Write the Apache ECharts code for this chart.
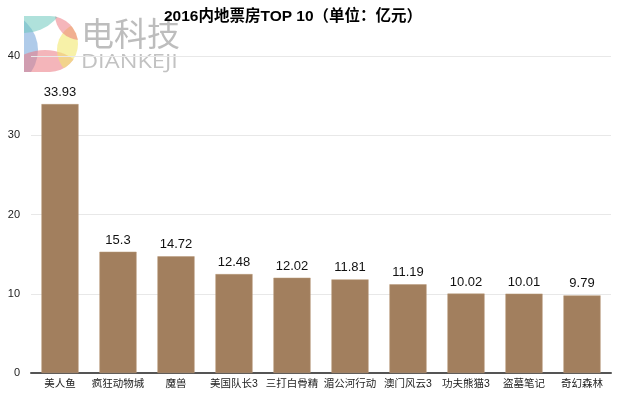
<!DOCTYPE html>
<html>
<head>
<meta charset="utf-8">
<script src="https://cdn.jsdelivr.net/npm/echarts@6/dist/echarts.min.js"></script>
<style>
  html, body { margin: 0; padding: 0; background: #fff; }
  #chart { width: 620px; height: 399px; }
</style>
</head>
<body>
<div id="chart"></div>
<script>
'use strict';

/* ── Data ── */
const films = ['美人鱼', '疯狂动物城', '魔兽', '美国队长3', '三打白骨精', '湄公河行动', '澳门风云3', '功夫熊猫3', '盗墓笔记', '奇幻森林'];
const boxOffice = [33.93, 15.3, 14.72, 12.48, 12.02, 11.81, 11.19, 10.02, 10.01, 9.79];
const yTicks = [0, 10, 20, 30, 40];

const FONT = "'Helvetica Neue', Arial, 'Noto Sans CJK SC', sans-serif";

/* ── Logo watermark (decorative, painted offscreen) ── */
function logoImage() {
  const cv = document.createElement('canvas');
  cv.width = 56; cv.height = 58;
  const g = cv.getContext('2d');
  // D outline
  g.beginPath();
  g.moveTo(0, 0);
  g.lineTo(26, 0);
  g.arc(26, 28, 28, -Math.PI / 2, Math.PI / 2);
  g.lineTo(0, 56);
  g.closePath();
  g.clip();
  const disc = (cx, cy, r, c) => {
    g.beginPath(); g.arc(cx, cy, r, 0, Math.PI * 2); g.fillStyle = c; g.fill();
  };
  disc(-24, 34, 38, 'rgba(110,160,215,0.55)');   // blue, left
  disc(21, 84, 50, 'rgba(235,120,130,0.55)');    // pink, bottom
  disc(61, 34, 28, 'rgba(242,232,110,0.6)');     // yellow, right
  disc(56, -1, 25, 'rgba(235,110,120,0.5)');     // red, top right
  disc(0, -26, 43, 'rgba(110,200,190,0.55)');    // teal, top
  return cv.toDataURL();
}

const chart = echarts.init(document.getElementById('chart'), null, { renderer: 'canvas' });

chart.setOption({
  backgroundColor: '#fff',
  animation: false,
  textStyle: { fontFamily: FONT },
  title: {
    text: '2016内地票房TOP 10（单位：亿元）',
    left: 159,
    top: 4,
    textStyle: { fontSize: 15.5, fontWeight: 'bold', color: '#000', fontFamily: FONT }
  },
  graphic: [
    { type: 'image', left: 24, top: 16, silent: true, style: { image: logoImage(), width: 56, height: 58 } },
    {
      type: 'text', x: 81, y: 17, silent: true,
      style: { text: '电科技', fill: '#bdbdbd', font: "33px 'Noto Sans CJK SC', sans-serif" }
    },
    {
      type: 'text', x: 81, y: 52, scaleX: 1.18, silent: true,
      style: { text: 'DIANKEJI', fill: '#c2c2c2', font: "20px 'Open Sans', sans-serif" }
    }
  ],
  grid: { left: 31, right: 9, top: 56, bottom: 26, containLabel: false },
  xAxis: {
    type: 'category',
    data: films,
    axisLine: { lineStyle: { color: '#555', width: 2 } },
    axisTick: { show: false },
    axisLabel: { color: '#222', fontSize: 10.5, margin: 6, interval: 0, fontFamily: FONT }
  },
  yAxis: {
    type: 'value',
    min: yTicks[0],
    max: yTicks[yTicks.length - 1],
    interval: 10,
    axisLine: { show: false },
    axisTick: { show: false },
    axisLabel: { color: '#222', fontSize: 11, margin: 11, fontFamily: FONT },
    splitLine: { lineStyle: { color: '#e8e8e8', width: 1 } }
  },
  series: [{
    type: 'bar',
    data: boxOffice,
    barWidth: '64%',
    itemStyle: { color: '#a27f5e', borderColor: '#b89878', borderWidth: 0.5 },
    label: {
      show: true,
      position: 'top',
      distance: 5,
      color: '#111',
      fontSize: 13,
      fontFamily: FONT
    }
  }]
});
</script>
</body>
</html>
